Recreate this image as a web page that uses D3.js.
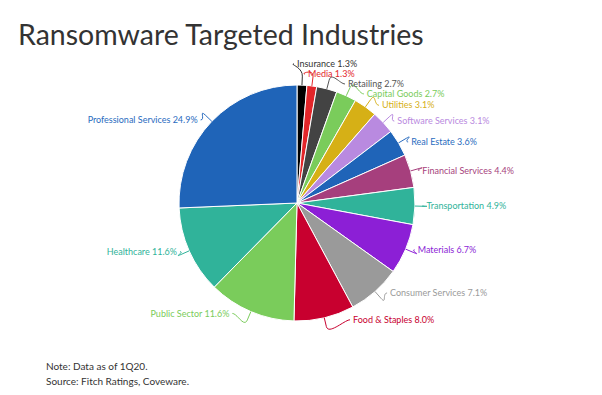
<!DOCTYPE html>
<html>
<head>
<meta charset="utf-8">
<script src="https://cdn.jsdelivr.net/npm/d3@7"></script>
<style>
  body { margin: 0; background: #fff; }
  text { font-family: Lato, "Open Sans", sans-serif; }
</style>
</head>
<body>
<div id="chart"></div>
<script>
// data, clockwise from 12 o'clock
var industries = ["Insurance", "Media", "Retailing", "Capital Goods", "Utilities",
  "Software Services", "Real Estate", "Financial Services", "Transportation",
  "Materials", "Consumer Services", "Food & Staples", "Public Sector",
  "Healthcare", "Professional Services"];
var shares = [1.3, 1.3, 2.7, 2.7, 3.1, 3.1, 3.6, 4.4, 4.9, 6.7, 7.1, 8.0, 11.6, 11.6, 24.9];
var colors = ["#000000", "#e3262a", "#434343", "#7acc5b", "#d6b016", "#b98ae0",
  "#1f64b8", "#a63f7d", "#30b39a", "#8c1fd6", "#9a9a9a", "#c8002f", "#7acc5b",
  "#30b39a", "#1f64b8"];
var labelColors = ["#333333", "#e3262a", "#555555", "#7acc5b", "#d6b016", "#b98ae0",
  "#2a6cc0", "#a63f7d", "#30b39a", "#8c1fd6", "#9a9a9a", "#c8002f", "#7acc5b",
  "#30b39a", "#2a6cc0"];
var title = "Ransomware Targeted Industries";
var notes = ["Note: Data as of 1Q20.", "Source: Fitch Ratings, Coveware."];

var svgWidth = 602, svgHeight = 395;
var cx = 297, cy = 203, radius = 118;
var labelRy = 120, labelRx = 129.5, breakR = radius + 9, gap = 10;

var svg = d3.select("#chart").append("svg")
  .attr("width", svgWidth)
  .attr("height", svgHeight);

svg.append("text")
  .attr("x", 18)
  .attr("y", 45)
  .attr("font-size", 28.5)
  .attr("fill", "#333")
  .text(title);

svg.selectAll(".note")
  .data(notes)
  .enter()
  .append("text")
  .attr("class", "note")
  .attr("x", 46)
  .attr("y", (d, i) => 369.5 + i * 15)
  .attr("font-size", 10)
  .attr("fill", "#333")
  .text(d => d);

var data = industries.map((name, i) => ({ name: name, value: shares[i], color: colors[i], lc: labelColors[i] }));

var pie = d3.pie().sort(null).value(d => d.value);
var arcs = pie(data);
var arc = d3.arc().innerRadius(0).outerRadius(radius);

var g = svg.append("g").attr("transform", `translate(${cx}, ${cy})`);

g.selectAll("path.slice")
  .data(arcs)
  .enter()
  .append("path")
  .attr("class", "slice")
  .attr("d", arc)
  .attr("fill", d => d.data.color)
  .attr("stroke", "#fff")
  .attr("stroke-width", 1);

// label positions: natural y from the mid angle, then push up to avoid overlap
arcs.forEach(d => {
  d.mid = (d.startAngle + d.endAngle) / 2;
  d.right = d.mid < Math.PI;
  d.ly = -labelRy * Math.cos(d.mid);
});
[true, false].forEach(side => {
  var list = arcs.filter(d => d.right === side).sort((a, b) => b.ly - a.ly);
  for (var i = 1; i < list.length; i++) {
    if (list[i - 1].ly - list[i].ly < gap) list[i].ly = list[i - 1].ly - gap;
  }
});
arcs.forEach(d => {
  var dx = Math.sqrt(Math.max(0, labelRx * labelRx - d.ly * d.ly));
  d.lx = d.right ? dx : -dx;
});

g.selectAll("path.conn")
  .data(arcs)
  .enter()
  .append("path")
  .attr("class", "conn")
  .attr("fill", "none")
  .attr("stroke", d => d.data.lc)
  .attr("stroke-width", 1)
  .attr("d", d => {
    var sx = Math.sin(d.mid), sy = -Math.cos(d.mid);
    var tx = sx * radius, ty = sy * radius;
    var bx = sx * breakR, by = sy * breakR;
    var px = d.lx + (d.right ? -3 : 3), py = d.ly;
    var p = d3.path();
    p.moveTo(px, py);
    p.bezierCurveTo(px + (d.right ? -5 : 5), py, 2 * bx - tx, 2 * by - ty, bx, by);
    p.lineTo(tx, ty);
    return p.toString();
  });

g.selectAll("text.lbl")
  .data(arcs)
  .enter()
  .append("text")
  .attr("class", "lbl")
  .attr("x", d => d.lx)
  .attr("y", d => d.ly)
  .attr("dy", "0.35em")
  .attr("text-anchor", d => d.right ? "start" : "end")
  .attr("font-size", 9)
  .attr("fill", d => d.data.lc)
  .text(d => `${d.data.name} ${d.data.value.toFixed(1)}%`);
</script>
</body>
</html>
